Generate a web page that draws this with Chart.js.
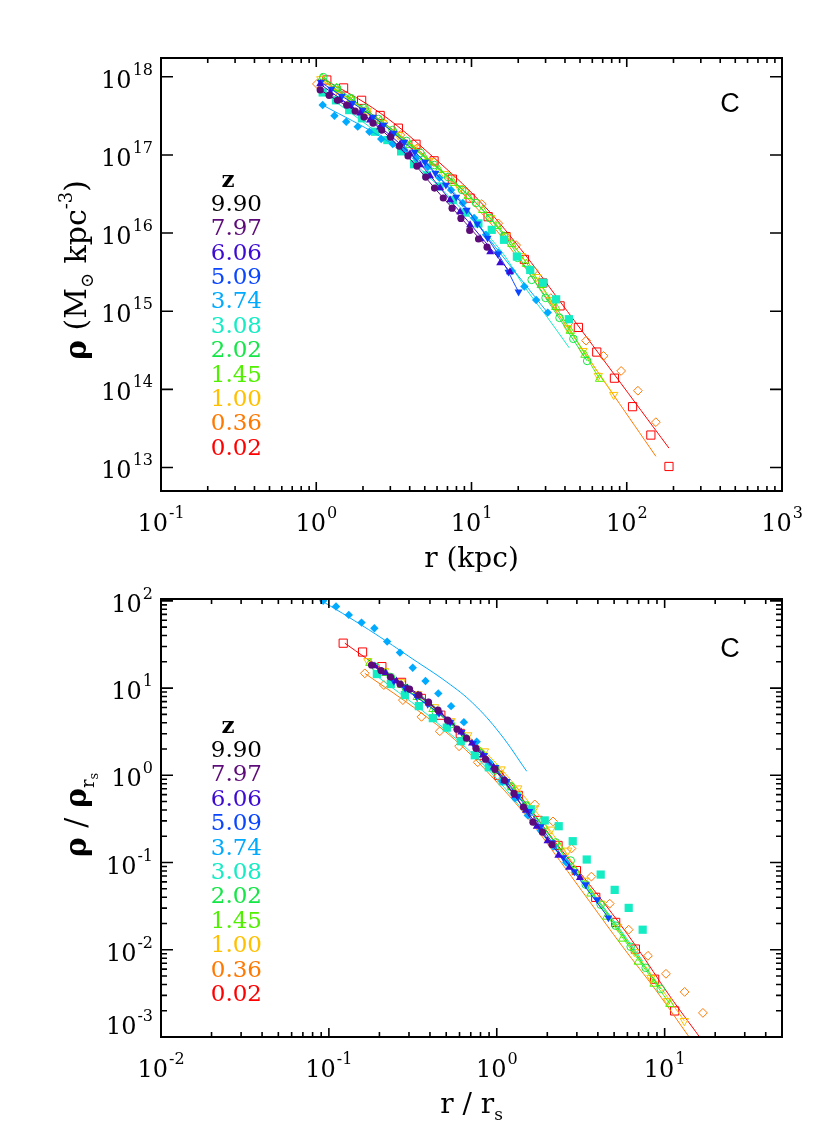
<!DOCTYPE html>
<html>
<head>
<meta charset="utf-8">
<title>Halo C density profiles</title>
<script src="https://cdn.jsdelivr.net/npm/chart.js@4.4.1/dist/chart.umd.min.js"></script>
<style>
  html, body { margin: 0; padding: 0; background: #fff; }
  #wrap { position: relative; width: 830px; height: 1145px; }
  canvas { position: absolute; left: 0; }
  #top { top: 0; }
  #bottom { top: 572px; }
</style>
</head>
<body>
<div id="wrap">
  <canvas id="top" width="830" height="572"></canvas>
  <canvas id="bottom" width="830" height="573"></canvas>
</div>
<script>
// redshifts in the legend, top line first, and their colours
let redshifts = ['9.90', '7.97', '6.06', '5.09', '3.74', '3.08', '2.02', '1.45', '1.00', '0.36', '0.02'];
let zColors = ['#000000', '#5c0b78', '#3c0ad2', '#0a46ff', '#00aaff', '#14ecc4', '#14e646', '#50f000', '#ffc000', '#ff7800', '#ff0000'];

// ---- top panel: r (kpc), rho (Msun kpc^-3) ----
let topPts797 = [[1.06,6.8e17],[1.21,5.8e17],[1.37,5.0e17],[1.57,4.35e17],[1.78,3.64e17],[2.03,3.05e17],[2.32,2.56e17],[2.64,2.08e17],[3.01,1.69e17],[3.43,1.30e17],[3.90,9.7e16],[4.45,7.2e16],[5.07,5.2e16],[5.78,3.77e16],[6.58,2.81e16],[7.50,2.08e16],[8.55,1.54e16],[9.74,1.08e16],[11.1,8.4e15],[12.6,6.6e15]];
let topPts606 = [[1.06,8.07e17],[1.23,6.20e17],[1.42,5.04e17],[1.65,4.22e17],[1.92,3.43e17],[2.22,2.79e17],[2.58,2.27e17],[2.99,1.80e17],[3.47,1.38e17],[4.02,1.03e17],[4.67,7.43e16],[5.41,5.37e16],[6.28,3.77e16],[7.28,2.65e16],[8.44,1.86e16],[9.79,1.27e16],[11.4,8.41e15],[13.2,5.73e15],[15.3,4.14e15],[17.7,3.18e15]];
let topPts509 = [[1.07,8.55e17],[1.25,6.97e17],[1.46,5.66e17],[1.71,4.61e17],[1.99,3.75e17],[2.32,3.05e17],[2.71,2.41e17],[3.16,1.91e17],[3.69,1.46e17],[4.31,1.09e17],[5.02,8.11e16],[5.86,5.86e16],[6.84,4.12e16],[7.98,2.90e16],[9.31,1.97e16],[10.9,1.31e16],[12.7,8.65e15],[14.8,5.41e15],[17.3,3.18e15],[20.1,1.77e15]];
let topPts374 = [[1.10,4.35e17],[1.31,3.17e17],[1.56,2.66e17],[1.85,2.30e17],[2.20,1.98e17],[2.62,1.60e17],[3.11,1.38e17],[3.70,1.16e17],[4.40,9.1e16],[5.23,7.0e16],[6.21,5.1e16],[7.39,3.56e16],[8.79,2.43e16],[10.4,1.56e16],[12.4,9.5e15],[14.9,5.6e15],[18.2,3.27e15],[21.9,2.07e15],[26.1,1.39e15],[31.0,9.6e14]];
let topPts308 = [[1.10,6.3e17],[1.34,5.0e17],[1.63,3.75e17],[1.97,2.94e17],[2.39,1.98e17],[2.87,1.55e17],[3.52,1.11e17],[4.27,7.6e16],[5.15,5.5e16],[6.23,3.95e16],[7.58,2.65e16],[9.16,1.83e16],[11.08,1.33e16],[13.5,1.10e16],[16.2,8.2e15],[19.6,5.0e15],[23.9,3.37e15],[28.8,2.32e15],[35.1,1.42e15],[42.4,7.9e14]];
let topPts202 = [[1.11,9.9e17],[1.36,7.17e17],[1.67,5.34e17],[2.05,3.98e17],[2.52,2.88e17],[3.10,2.08e17],[3.81,1.51e17],[4.69,1.06e17],[5.76,7.43e16],[7.08,5.21e16],[8.70,3.56e16],[10.7,2.43e16],[13.1,1.56e16],[16.2,9.19e15],[19.8,4.82e15],[24.4,2.52e15],[30.0,1.48e15],[36.9,8.22e14],[45.3,4.43e14],[55.6,2.31e14]];
let topPts145 = [[1.09,9.6e17],[1.35,7.17e17],[1.68,5.19e17],[2.09,3.75e17],[2.59,2.71e17],[3.22,1.91e17],[4.00,1.34e17],[4.96,9.40e16],[6.17,6.41e16],[7.66,4.38e16],[9.51,2.98e16],[11.8,1.97e16],[14.7,1.23e16],[18.2,7.24e15],[22.6,4.02e15],[28.1,2.16e15],[34.9,1.13e15],[43.3,5.59e14],[53.8,2.76e14],[66.8,1.36e14]];
let topPts100 = [[1.07,9.35e17],[1.35,6.97e17],[1.70,5.04e17],[2.13,3.64e17],[2.68,2.56e17],[3.37,1.80e17],[4.23,1.22e17],[5.32,8.36e16],[6.68,5.70e16],[8.39,3.77e16],[10.5,2.50e16],[13.3,1.56e16],[16.7,9.19e15],[20.9,5.10e15],[26.3,2.75e15],[33.1,1.40e15],[41.6,6.12e14],[52.2,3.11e14],[65.6,1.49e14],[82.4,8.51e13]];
let topPts036 = [[1.01,8.1e17],[1.30,6.2e17],[1.66,4.75e17],[2.12,3.54e17],[2.72,2.56e17],[3.48,1.80e17],[4.46,1.22e17],[5.72,8.1e16],[7.28,5.2e16],[9.09,3.4e16],[11.65,2.35e16],[14.9,1.33e16],[19.4,7.0e15],[25.1,3.3e15],[32.4,1.47e15],[42.1,7.0e14],[54.7,4.2e14],[70.8,2.68e14],[92.0,1.72e14],[118,9.6e13],[154,3.8e13]];
let topPts002 = [[1.17,9.1e17],[1.50,7.2e17],[1.96,5.0e17],[2.58,3.2e17],[3.38,2.2e17],[4.39,1.37e17],[5.74,8.4e16],[7.53,4.9e16],[9.80,2.8e16],[12.8,1.62e16],[16.7,9.0e15],[21.9,4.6e15],[28.8,2.3e15],[37.2,1.17e15],[48.8,6.2e14],[64.1,3.0e14],[83.3,1.39e14],[109,6.0e13],[143,2.6e13],[187,1.03e13]];

let topFit797 = [[1.06,6.8e17],[2.64,2.08e17],[6.58,2.81e16],[12.6,6.6e15]];
let topFit606 = [[1.06,8.07e17],[3.47,1.38e17],[8.44,1.86e16],[17.7,3.18e15]];
let topFit509 = [[1.07,8.55e17],[3.16,1.91e17],[7.98,2.90e16],[14.8,5.41e15],[20.1,1.77e15]];
let topFit374 = [[1.10,4.35e17],[2.62,1.69e17],[6.21,5.21e16],[14.9,5.90e15],[31.0,9.5e14]];
let topFit308 = [[1.10,6.4e17],[3.52,1.09e17],[9.16,1.81e16],[15.3,6.1e15],[21.9,2.07e15],[31.0,8.2e14],[42.6,3.4e14]];
let topFit202 = [[1.11,9.9e17],[4.69,1.06e17],[13.1,1.56e16],[30.0,1.48e15],[55.6,2.31e14]];
let topFit145 = [[1.09,9.6e17],[4.96,9.4e16],[14.7,1.23e16],[34.9,1.13e15],[66.8,1.36e14]];
let topFit100 = [[1.07,9.35e17],[5.32,8.36e16],[16.7,9.19e15],[41.6,6.12e14],[82.4,8.51e13]];
let topFit036 = [[1.085,9.1e17],[2.58,2.79e17],[5.68,7.87e16],[9.80,2.57e16],[15.3,9.46e15],[32.1,1.28e15],[82.1,8.5e13],[154,1.39e13]];
let topFit002 = [[1.106,9.5e17],[2.58,3.44e17],[5.66,9.4e16],[11.36,2.53e16],[20.56,6.37e15],[37.2,1.33e15],[82.0,1.61e14],[187,1.77e13]];

// ---- bottom panel: r / r_s, rho / rho(r_s) ----
let botPts797 = [[0.1795,18.39],[0.2045,15.89],[0.2330,13.38],[0.2653,11.12],[0.3022,9.74],[0.3442,8.31],[0.3922,6.90],[0.4467,5.59],[0.5088,4.29],[0.5796,3.38],[0.6602,2.66],[0.7520,2.04],[0.8566,1.527],[0.9757,1.172],[1.111,0.876],[1.266,0.621],[1.442,0.432],[1.642,0.290],[1.871,0.223],[2.131,0.161]];
let botPts606 = [[0.1878,17.90],[0.2179,14.87],[0.2526,12.04],[0.2929,10.0],[0.3396,8.31],[0.3937,6.72],[0.4566,5.30],[0.5295,4.07],[0.6139,3.12],[0.7117,2.33],[0.8254,1.70],[0.9572,1.236],[1.110,0.876],[1.287,0.589],[1.492,0.396],[1.730,0.259],[2.006,0.1767],[2.326,0.1203],[2.698,0.0876],[3.128,0.0672]];
let botPts509 = [[0.2436,12.04],[0.2845,10.0],[0.3321,8.09],[0.3878,6.55],[0.4529,5.16],[0.5288,4.07],[0.6173,3.12],[0.7209,2.33],[0.8414,1.70],[0.9823,1.236],[1.147,0.853],[1.339,0.574],[1.563,0.386],[1.825,0.259],[2.131,0.170],[2.488,0.1142],[2.905,0.0788],[3.391,0.0559],[3.960,0.0376],[4.623,0.0233]];
let botPts374 = [[0.0925,100],[0.1103,86.0],[0.1314,69.0],[0.1565,56.3],[0.1866,48.6],[0.2223,34.1],[0.2650,25.5],[0.3158,17.1],[0.3763,12.04],[0.4484,8.69],[0.5345,6.21],[0.6369,4.07],[0.7592,2.43],[0.9048,1.41],[1.078,0.853],[1.285,0.544],[1.531,0.347],[1.825,0.233],[2.175,0.1527],[2.593,0.100]];
let botPts308 = [[0.1931,14.48],[0.2339,11.12],[0.2835,8.31],[0.3434,6.21],[0.4159,4.52],[0.5039,3.52],[0.6105,2.46],[0.7397,1.70],[0.8962,1.236],[1.086,0.853],[1.315,0.574],[1.594,0.407],[1.931,0.304],[2.339,0.261],[2.834,0.1757],[3.434,0.1083],[4.159,0.0728],[5.039,0.0486],[6.106,0.0302],[7.397,0.01698]];
let botPts202 = [[0.1905,17.43],[0.2339,13.38],[0.2872,10.0],[0.3529,7.28],[0.4334,5.30],[0.5324,3.86],[0.6539,2.66],[0.8031,1.79],[0.9863,1.142],[1.212,0.747],[1.488,0.452],[1.828,0.288],[2.245,0.170],[2.757,0.1054],[3.387,0.0559],[4.159,0.0329],[5.109,0.01888],[6.275,0.01083],[7.707,0.00621],[9.467,0.00356]];
let botPts145 = [[0.1754,19.38],[0.2179,14.87],[0.2705,10.83],[0.3358,7.88],[0.4170,5.74],[0.5179,4.07],[0.6432,2.73],[0.7989,1.84],[0.9918,1.172],[1.232,0.728],[1.529,0.440],[1.899,0.259],[2.359,0.1527],[2.929,0.0809],[3.637,0.0440],[4.516,0.0239],[5.608,0.01338],[6.964,0.00728],[8.647,0.00407],[10.74,0.00239]];
let botPts100 = [[0.1706,20.43],[0.2146,15.68],[0.2694,11.72],[0.3387,8.53],[0.4258,6.05],[0.5345,4.18],[0.6722,2.88],[0.8450,1.888],[1.061,1.172],[1.334,0.709],[1.676,0.418],[2.105,0.2395],[2.646,0.1374],[3.327,0.0621],[4.176,0.0338],[5.251,0.01838],[6.600,0.00948],[8.289,0.00477],[10.42,0.00259],[13.10,0.00153]];
let botPts036 = [[0.1637,14.76],[0.2125,10.83],[0.2758,7.28],[0.3562,4.68],[0.4577,3.20],[0.5964,2.154],[0.7706,1.411],[1.000,0.948],[1.298,0.655],[1.684,0.464],[2.163,0.296],[2.784,0.1448],[3.662,0.0690],[4.706,0.0338],[6.107,0.01698],[7.954,0.00853],[10.18,0.00530],[13.15,0.00329],[16.90,0.00189]];
let botPts002 = [[0.1217,32.7],[0.1587,25.9],[0.2068,17.6],[0.2709,11.63],[0.3553,7.61],[0.4642,4.89],[0.6064,3.02],[0.7921,1.70],[1.028,1.00],[1.343,0.589],[1.762,0.304],[2.317,0.157],[2.981,0.0809],[3.885,0.0399],[5.108,0.0206],[6.693,0.01019],[8.719,0.00460],[11.47,0.00199]];

let botFit797 = [[0.1795,18.39],[0.3922,6.90],[0.8566,1.527],[1.442,0.432],[2.131,0.161]];
let botFit606 = [[0.1878,17.9],[0.4566,5.30],[0.9572,1.236],[1.730,0.259],[3.128,0.0672]];
let botFit509 = [[0.2436,12.04],[0.6173,3.12],[1.339,0.574],[2.488,0.1142],[4.623,0.0233]];
let botFit374 = [[0.0921,98.2],[0.1334,63.8],[0.2012,38.6],[0.3162,21.5],[0.5039,11.72],[0.7197,6.72],[1.042,3.04],[1.508,1.112]];
let botFit308 = [[0.1931,13.74],[0.4159,4.40],[0.8962,1.142],[1.931,0.1938],[4.159,0.0338],[7.397,0.00747]];
let botFit202 = [[0.1905,17.43],[0.5324,3.86],[1.212,0.747],[3.387,0.0559],[9.467,0.00356]];
let botFit145 = [[0.1754,19.38],[0.5179,4.07],[1.232,0.728],[3.637,0.0440],[10.74,0.00239]];
let botFit100 = [[0.1706,20.43],[0.5345,4.18],[1.334,0.709],[4.176,0.0338],[13.10,0.00153]];
let botFit036 = [[0.1637,14.76],[0.3562,5.16],[0.6021,2.27],[1.042,0.767],[1.572,0.304],[2.371,0.1054],[3.578,0.0356],[5.623,0.01083],[8.925,0.00338],[14.09,0.00098]];
let botFit002 = [[0.1245,32.7],[0.3480,7.94],[0.6021,3.29],[1.042,1.14],[1.572,0.4175],[2.266,0.1654],[4.293,0.0356],[6.785,0.01083],[10.71,0.00296],[16.15,0.0010]];

// marker per redshift, same order as redshifts[1..10]
let markers = [
  { shape: 'circle',   rot: 0,   size: 3.6, open: false },
  { shape: 'triangle', rot: 0,   size: 4.6, open: false },
  { shape: 'triangle', rot: 180, size: 4.6, open: false },
  { shape: 'rectRot',  rot: 0,   size: 4.2, open: false },
  { shape: 'rect',     rot: 0,   size: 5.8, open: false },
  { shape: 'circle',   rot: 0,   size: 3.8, open: true },
  { shape: 'triangle', rot: 0,   size: 4.8, open: true },
  { shape: 'triangle', rot: 180, size: 4.8, open: true },
  { shape: 'rectRot',  rot: 0,   size: 4.4, open: true },
  { shape: 'rect',     rot: 0,   size: 5.8, open: true }
];

let FONT = 'DejaVu Serif';

function toXY(arr) {
  return arr.map(p => ({ x: p[0], y: p[1] }));
}

function buildSets(ptsList, fitList) {
  let sets = [];
  ptsList.forEach(function (pts, i) {
    let m = markers[i];
    let col = zColors[i + 1];
    sets.push({
      data: toXY(fitList[i]),
      showLine: true,
      borderColor: col,
      borderWidth: 1,
      pointRadius: 0,
      tension: 0.4,
      fill: false
    });
    sets.push({
      data: toXY(pts),
      showLine: false,
      pointStyle: m.shape,
      pointRotation: m.rot,
      pointRadius: m.size,
      pointBackgroundColor: m.open ? 'rgba(0,0,0,0)' : col,
      pointBorderColor: col,
      pointBorderWidth: m.open ? 1 : 0
    });
  });
  return sets;
}

// per-panel decoration, looked up by canvas id
let panels = {
  top: {
    yMinor: false,
    xTitle: [['r (kpc)', 28, 0]],
    xTitleBase: 567,
    yTitle: [['ρ', 30, 0, true], [' (M', 30, 0], ['⊙', 18, 7], [' kpc', 30, 0], ['-3', 18, -14], [')', 30, 0]],
    yTitleX: 86,
    yTitleMid: 270,
    tagBase: 112,
    legendBase: 210.7
  },
  bottom: {
    yMinor: true,
    xTitle: [['r / r', 28, 0], ['s', 17, 7]],
    xTitleBase: 541,
    yTitle: [['ρ', 30, 0, true], [' / ', 30, 0], ['ρ', 30, 0, true], ['r', 18, 8], ['s', 13, 12]],
    yTitleX: 86,
    yTitleMid: 243,
    tagBase: 85,
    legendBase: 185
  }
};

function fontOf(p) {
  return (p[3] ? 'bold ' : '') + p[1] + 'px ' + FONT;
}

function drawPieces(ctx, pieces, x, y) {
  let widths = pieces.map(function (p) { ctx.font = fontOf(p); return ctx.measureText(p[0]).width; });
  let total = widths.reduce((s, w) => s + w, 0);
  let cx = x - total / 2;
  pieces.forEach(function (p, i) {
    ctx.font = fontOf(p);
    ctx.fillText(p[0], cx, y + (p[2] || 0));
    cx += widths[i];
  });
}

function drawPow(ctx, k, x, y, align) {
  let base = '10', sup = String(k);
  ctx.font = '24px ' + FONT;
  let w1 = ctx.measureText(base).width;
  ctx.font = '16px ' + FONT;
  let w2 = ctx.measureText(sup).width + 1;
  let x0 = align === 'right' ? x - w1 - w2 : x - (w1 + w2) / 2;
  ctx.font = '24px ' + FONT;
  ctx.fillText(base, x0, y);
  ctx.font = '16px ' + FONT;
  ctx.fillText(sup, x0 + w1 + 1, y - 13);
}

function decades(scale) {
  let out = [];
  for (let k = Math.ceil(Math.log10(scale.min) - 1e-9); k <= Math.floor(Math.log10(scale.max) + 1e-9); k++) out.push(k);
  return out;
}

function minors(scale) {
  let out = [];
  for (let k = Math.floor(Math.log10(scale.min)); k <= Math.floor(Math.log10(scale.max)); k++) {
    for (let m = 2; m <= 9; m++) {
      let v = m * Math.pow(10, k);
      if (v > scale.min && v < scale.max) out.push(v);
    }
  }
  return out;
}

let idlAxes = {
  id: 'idlAxes',
  afterDraw(chart) {
    let p = panels[chart.canvas.id];
    let ctx = chart.ctx, a = chart.chartArea;
    let xs = chart.scales.x, ys = chart.scales.y;
    ctx.save();
    ctx.strokeStyle = '#000';
    ctx.fillStyle = '#000';
    ctx.lineWidth = 1.6;
    ctx.beginPath();
    decades(xs).forEach(function (k) {
      let px = xs.getPixelForValue(Math.pow(10, k));
      ctx.moveTo(px, a.bottom); ctx.lineTo(px, a.bottom - 9);
      ctx.moveTo(px, a.top); ctx.lineTo(px, a.top + 9);
    });
    minors(xs).forEach(function (v) {
      let px = xs.getPixelForValue(v);
      ctx.moveTo(px, a.bottom); ctx.lineTo(px, a.bottom - 5);
      ctx.moveTo(px, a.top); ctx.lineTo(px, a.top + 5);
    });
    decades(ys).forEach(function (k) {
      let py = ys.getPixelForValue(Math.pow(10, k));
      ctx.moveTo(a.left, py); ctx.lineTo(a.left + 12, py);
      ctx.moveTo(a.right, py); ctx.lineTo(a.right - 12, py);
    });
    if (p.yMinor) {
      minors(ys).forEach(function (v) {
        let py = ys.getPixelForValue(v);
        ctx.moveTo(a.left, py); ctx.lineTo(a.left + 6, py);
        ctx.moveTo(a.right, py); ctx.lineTo(a.right - 6, py);
      });
    }
    ctx.stroke();
    ctx.lineWidth = 2;
    ctx.strokeRect(a.left, a.top, a.right - a.left, a.bottom - a.top);

    // tick labels
    ctx.textBaseline = 'alphabetic';
    ctx.textAlign = 'left';
    decades(xs).forEach(function (k) {
      drawPow(ctx, k, xs.getPixelForValue(Math.pow(10, k)), a.bottom + 40, 'center');
    });
    decades(ys).forEach(function (k) {
      let py = ys.getPixelForValue(Math.pow(10, k));
      let base = Math.abs(py - a.bottom) < 2 ? py - 3 : py + 11;
      drawPow(ctx, k, a.left - 8, base, 'right');
    });

    // axis titles
    drawPieces(ctx, p.xTitle, (a.left + a.right) / 2, p.xTitleBase);
    ctx.save();
    ctx.translate(p.yTitleX, p.yTitleMid);
    ctx.rotate(-Math.PI / 2);
    drawPieces(ctx, p.yTitle, 0, 0);
    ctx.restore();

    // halo tag
    ctx.font = '27px Liberation Sans';
    ctx.textAlign = 'center';
    ctx.fillText('C', 730, p.tagBase);

    // redshift legend
    ctx.font = 'bold 23px ' + FONT;
    ctx.fillText('z', 228, p.legendBase - 24);
    ctx.font = '23px ' + FONT;
    ctx.textAlign = 'right';
    redshifts.forEach(function (z, i) {
      ctx.fillStyle = zColors[i];
      ctx.fillText(z, 262, p.legendBase + i * 24.4);
    });
    ctx.restore();
  }
};

function makeChart(id, sets, xr, yr, pad) {
  return new Chart(document.getElementById(id), {
    type: 'scatter',
    data: { datasets: sets },
    options: {
      responsive: false,
      animation: false,
      events: [],
      devicePixelRatio: 1,
      layout: { padding: pad },
      plugins: { legend: { display: false }, tooltip: { enabled: false } },
      scales: {
        x: { type: 'logarithmic', min: xr[0], max: xr[1], display: false },
        y: { type: 'logarithmic', min: yr[0], max: yr[1], display: false }
      }
    },
    plugins: [idlAxes]
  });
}

let topSets = buildSets(
  [topPts797, topPts606, topPts509, topPts374, topPts308, topPts202, topPts145, topPts100, topPts036, topPts002],
  [topFit797, topFit606, topFit509, topFit374, topFit308, topFit202, topFit145, topFit100, topFit036, topFit002]
);
let botSets = buildSets(
  [botPts797, botPts606, botPts509, botPts374, botPts308, botPts202, botPts145, botPts100, botPts036, botPts002],
  [botFit797, botFit606, botFit509, botFit374, botFit308, botFit202, botFit145, botFit100, botFit036, botFit002]
);

makeChart('top', topSets, [0.1, 1000], [5.0e12, 1.74e18], { left: 161, right: 48, top: 58, bottom: 81 });
makeChart('bottom', botSets, [0.01, 50], [0.001, 105], { left: 161, right: 48, top: 27, bottom: 108 });
</script>
</body>
</html>
